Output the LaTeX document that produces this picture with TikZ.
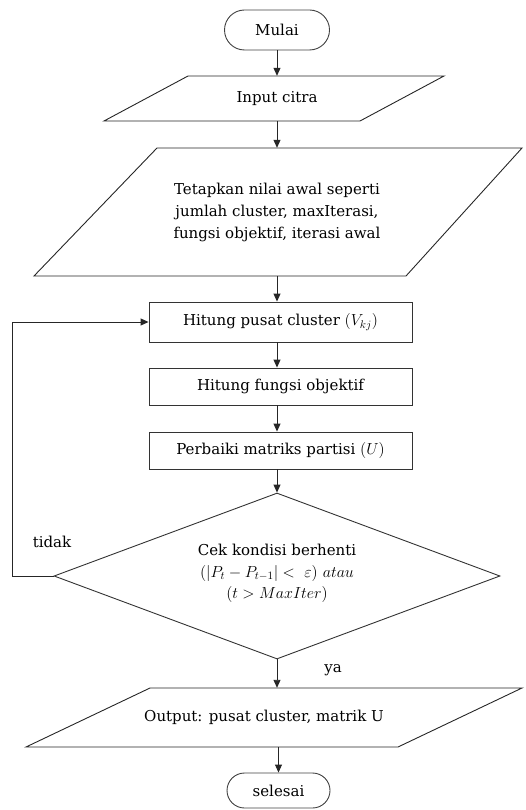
\RequirePackage{fix-cm}
\documentclass[tikz,border=0pt]{standalone}
\usepackage{fontspec}
\setmainfont{DejaVu Serif}
\usetikzlibrary{shapes.geometric,shapes.misc,arrows.meta}
\begin{document}
\begin{tikzpicture}[x=1pt,y=-1pt,
  every node/.style={font=\fontsize{15}{22}\selectfont},
  line/.style={line width=0.9pt, draw=black!85},
  arr/.style={line, -{Triangle[length=8pt,width=7pt]}},
  term/.style={rounded rectangle, draw=black!75, line width=0.9pt, minimum width=105, minimum height=40, inner sep=0},
  proc/.style={rectangle, draw=black!80, line width=0.9pt, minimum width=263, inner sep=0},
  iobox/.style={rectangle, draw=none, inner sep=0, align=center},
  dec/.style={diamond, draw=black!80, line width=0.9pt, aspect=2.69, minimum width=446, minimum height=166, inner sep=0, align=center},
  lbl/.style={inner sep=0}
]
\useasboundingbox (0,0) rectangle (525,810);

\node[term] (start) at (277,30) {Mulai};

\node[iobox, minimum width=200, minimum height=45] (in) at (277,98.5) {Input citra};
\draw[line] (188,76) -- (444,76) -- (360,121) -- (104,121) -- cycle;

\node[iobox, minimum width=250, minimum height=128] (init) at (277,212)
  {Tetapkan nilai awal seperti\\jumlah cluster, maxIterasi,\\fungsi objektif, iterasi awal};
\draw[line] (157,148) -- (522,148) -- (406,276) -- (34,276) -- cycle;

\node[proc, minimum height=40] (v) at (280.5,322) {Hitung pusat cluster {\fontsize{16}{20}\selectfont$(V_{kj})$}};
\node[proc, minimum height=37] (f) at (280.5,386.5) {Hitung fungsi objektif};
\node[proc, minimum height=37] (u) at (280.5,450.5) {Perbaiki matriks partisi {\fontsize{16}{20}\selectfont$(U)$}};

\node[dec] (d) at (277,576) {Cek kondisi berhenti\\[0pt]
  {\fontsize{16}{20}\selectfont $(|P_t - P_{t-1}| <\ \varepsilon)\ atau$}\\[-1pt]
  {\fontsize{16}{20}\selectfont $(t > MaxIter)$}\\[-12pt]\mbox{}};

\node[iobox, minimum width=250, minimum height=59] (out) at (264,717.5) {Output: pusat cluster, matrik U};
\draw[line] (150,688) -- (522,688) -- (398,747) -- (26,747) -- cycle;

\node[term, minimum width=103, minimum height=35] (end) at (278.5,790.5) {selesai};

\coordinate (lc) at (12,0);

\draw[arr] (start.south) -- (in.north);
\draw[arr] (in.south) -- (init.north);
\draw[arr] (init.south) -- (init.south |- v.north);
\draw[arr] (init.south |- v.south) -- (init.south |- f.north);
\draw[arr] (init.south |- f.south) -- (init.south |- u.north);
\draw[arr] (d.north |- u.south) -- (d.north);
\draw[arr] (d.west) -- (d.west -| lc) -- (v.west -| lc) -- (v.west);
\draw[arr] (d.south) -- (d.south |- out.north);
\draw[arr] (end.north |- out.south) -- (end.north);

\node[lbl] (tidak) at (52,542) {tidak};
\node[lbl] (ya) at (333,670) {ya};
\end{tikzpicture}
\end{document}
